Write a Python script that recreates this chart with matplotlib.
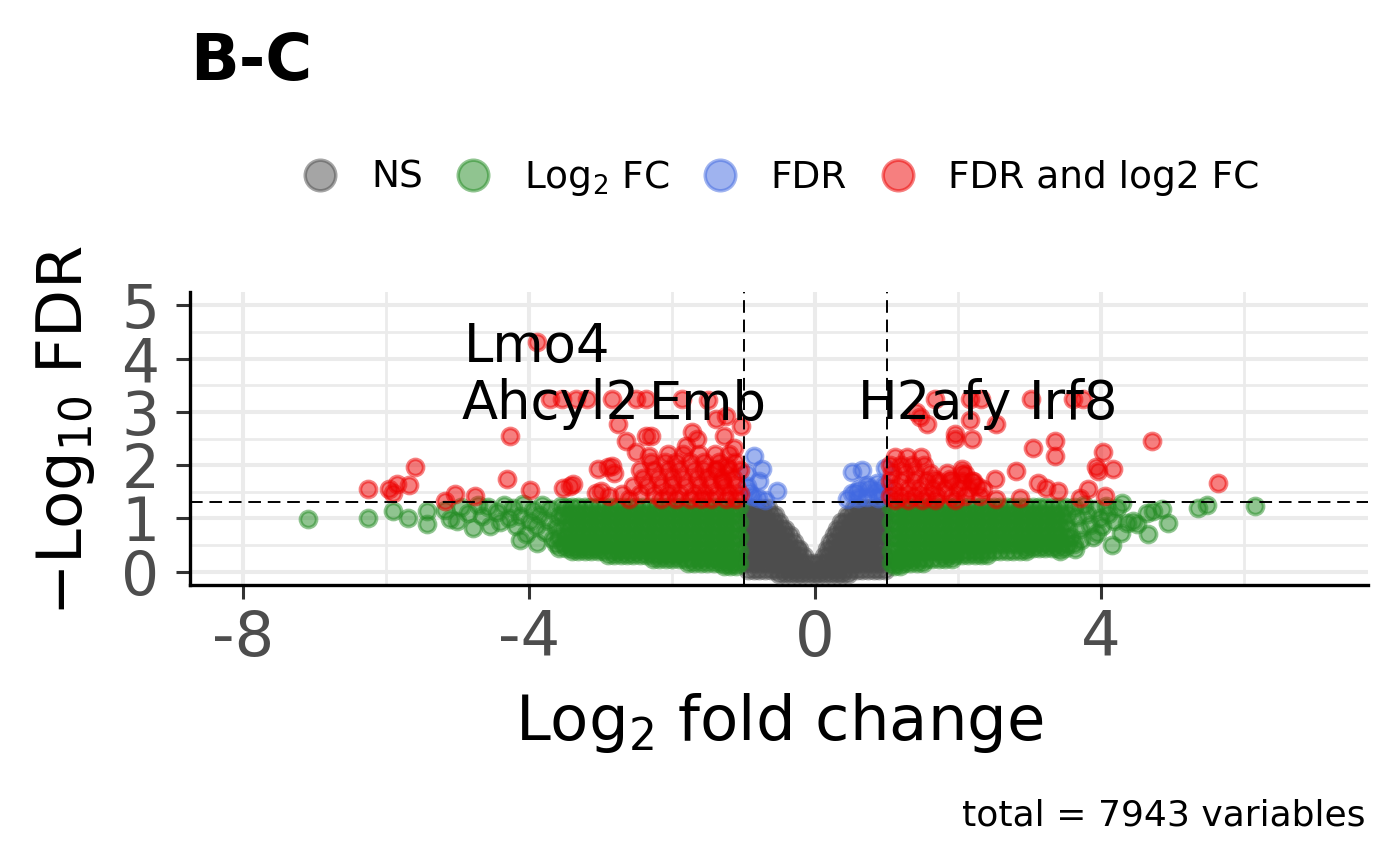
import matplotlib
matplotlib.use("Agg")
import matplotlib.pyplot as plt
from matplotlib.lines import Line2D

# ---------------- data ----------------
# NS (grey): rows of -log10 FDR -> log2 fold-change values
ns_rows = {
    1.20: [-0.98, -0.90, -0.82, -0.74, -0.66, 0.54, 0.62, 0.70, 0.78, 0.86, 0.94],
    1.07: [-0.94, -0.86, -0.78, -0.70, -0.62, -0.56, 0.44, 0.50, 0.58, 0.66, 0.74, 0.82, 0.90, 0.97],
    0.94: [-0.98, -0.90, -0.82, -0.74, -0.66, -0.58, -0.50, 0.36, 0.42, 0.50, 0.58, 0.66, 0.74, 0.82, 0.90, 0.98],
    0.81: [-0.94, -0.86, -0.78, -0.70, -0.62, -0.54, -0.46, -0.42, 0.30, 0.38, 0.46, 0.54, 0.62, 0.70, 0.78, 0.86, 0.94],
    0.68: [-0.98, -0.90, -0.82, -0.74, -0.66, -0.58, -0.50, -0.42, -0.35, 0.26, 0.34, 0.42, 0.50, 0.58, 0.66, 0.74, 0.82, 0.90, 0.98],
    0.55: [-0.94, -0.86, -0.78, -0.70, -0.62, -0.54, -0.46, -0.38, -0.30, 0.21, 0.28, 0.36, 0.44, 0.52, 0.60, 0.68, 0.76, 0.84, 0.92],
    0.42: [-0.98, -0.90, -0.82, -0.74, -0.66, -0.58, -0.50, -0.42, -0.34, -0.26, -0.22, 0.16, 0.22, 0.30, 0.38, 0.46, 0.54, 0.62, 0.70, 0.78, 0.86, 0.94],
    0.29: [-0.94, -0.86, -0.78, -0.70, -0.62, -0.54, -0.46, -0.38, -0.30, -0.22, -0.15, 0.12, 0.18, 0.26, 0.34, 0.42, 0.50, 0.58, 0.66, 0.74, 0.82, 0.90, 0.98],
    0.16: [-0.98, -0.90, -0.82, -0.74, -0.66, -0.58, -0.50, -0.42, -0.34, -0.26, -0.18, -0.10, -0.02, 0.06, 0.14, 0.22, 0.30, 0.38, 0.46, 0.54, 0.62, 0.70, 0.78, 0.86, 0.94],
    0.04: [-0.94, -0.86, -0.78, -0.70, -0.62, -0.54, -0.46, -0.38, -0.30, -0.22, -0.14, -0.06, 0.02, 0.10, 0.18, 0.26, 0.34, 0.42, 0.50, 0.58, 0.66, 0.74, 0.82, 0.90, 0.98],
    -0.04: [-0.50, -0.42, -0.34, -0.26, -0.18, -0.10, -0.02, 0.06, 0.14, 0.22, 0.30, 0.38, 0.46],
}

# Log2 FC only (green): dense rows, left and right
fc_rows_left = {
    1.22: [-1.06, -1.15, -1.24, -1.33, -1.42, -1.51, -1.60, -1.69, -1.78, -1.87, -1.96, -2.05, -2.14, -2.23, -2.32, -2.41, -2.50, -2.59, -2.68, -2.77, -2.86, -2.95, -3.04, -3.13, -3.22, -3.31, -3.40, -3.49],
    1.08: [-1.10, -1.19, -1.28, -1.37, -1.46, -1.55, -1.64, -1.73, -1.82, -1.91, -2.00, -2.09, -2.18, -2.27, -2.36, -2.45, -2.54, -2.63, -2.72, -2.81, -2.90, -2.99, -3.08, -3.17, -3.26, -3.35, -3.44, -3.53],
    0.94: [-1.06, -1.15, -1.24, -1.33, -1.42, -1.51, -1.60, -1.69, -1.78, -1.87, -1.96, -2.05, -2.14, -2.23, -2.32, -2.41, -2.50, -2.59, -2.68, -2.77, -2.86, -2.95, -3.04, -3.13, -3.22, -3.31, -3.40, -3.49],
    0.80: [-1.10, -1.19, -1.28, -1.37, -1.46, -1.55, -1.64, -1.73, -1.82, -1.91, -2.00, -2.09, -2.18, -2.27, -2.36, -2.45, -2.54, -2.63, -2.72, -2.81, -2.90, -2.99, -3.08, -3.17, -3.26, -3.35, -3.44, -3.53],
    0.66: [-1.06, -1.15, -1.24, -1.33, -1.42, -1.51, -1.60, -1.69, -1.78, -1.87, -1.96, -2.05, -2.14, -2.23, -2.32, -2.41, -2.50, -2.59, -2.68, -2.77, -2.86, -2.95, -3.04, -3.13, -3.22, -3.31, -3.40, -3.49, -3.58],
    0.52: [-1.10, -1.19, -1.28, -1.37, -1.46, -1.55, -1.64, -1.73, -1.82, -1.91, -2.00, -2.09, -2.18, -2.27, -2.36, -2.45, -2.54, -2.63, -2.72, -2.81, -2.90, -2.99, -3.08, -3.17, -3.26, -3.35, -3.44, -3.53, -3.62],
    0.45: [-3.04, -3.13, -3.22, -3.31, -3.40, -3.49, -3.58],
    0.38: [-1.06, -1.15, -1.24, -1.33, -1.42, -1.51, -1.60, -1.69, -1.78, -1.87, -1.96, -2.05, -2.14, -2.23, -2.32, -2.41, -2.50, -2.59, -2.68, -2.77, -2.86, -2.95, -3.04, -3.13, -3.22, -3.31, -3.40],
    0.31: [-1.91, -2.00, -2.09, -2.18, -2.27, -2.36, -2.45, -2.54, -2.63, -2.72, -2.81, -2.90],
    0.24: [-1.10, -1.19, -1.28, -1.37, -1.46, -1.55, -1.64, -1.73, -1.82, -1.91, -2.00, -2.09, -2.18, -2.27],
    0.17: [-1.06, -1.15, -1.24, -1.33, -1.42, -1.51, -1.60, -1.69, -1.78],
    0.10: [-1.10, -1.19, -1.28],
}
fc_rows_right = {
    1.22: [1.06, 1.15, 1.24, 1.33, 1.42, 1.51, 1.60, 1.69, 1.78, 1.87, 1.96, 2.05, 2.14, 2.23, 2.32, 2.41, 2.50, 2.59, 2.68, 2.77, 2.86, 2.95, 3.04, 3.13, 3.22, 3.31, 3.40, 3.49],
    1.08: [1.10, 1.19, 1.28, 1.37, 1.46, 1.55, 1.64, 1.73, 1.82, 1.91, 2.00, 2.09, 2.18, 2.27, 2.36, 2.45, 2.54, 2.63, 2.72, 2.81, 2.90, 2.99, 3.08, 3.17, 3.26, 3.35, 3.44, 3.53],
    0.94: [1.06, 1.15, 1.24, 1.33, 1.42, 1.51, 1.60, 1.69, 1.78, 1.87, 1.96, 2.05, 2.14, 2.23, 2.32, 2.41, 2.50, 2.59, 2.68, 2.77, 2.86, 2.95, 3.04, 3.13, 3.22, 3.31, 3.40, 3.49],
    0.80: [1.10, 1.19, 1.28, 1.37, 1.46, 1.55, 1.64, 1.73, 1.82, 1.91, 2.00, 2.09, 2.18, 2.27, 2.36, 2.45, 2.54, 2.63, 2.72, 2.81, 2.90, 2.99, 3.08, 3.17, 3.26, 3.35, 3.44, 3.53],
    0.66: [1.06, 1.15, 1.24, 1.33, 1.42, 1.51, 1.60, 1.69, 1.78, 1.87, 1.96, 2.05, 2.14, 2.23, 2.32, 2.41, 2.50, 2.59, 2.68, 2.77, 2.86, 2.95, 3.04, 3.13, 3.22, 3.31, 3.40, 3.49, 3.58],
    0.52: [1.10, 1.19, 1.28, 1.37, 1.46, 1.55, 1.64, 1.73, 1.82, 1.91, 2.00, 2.09, 2.18, 2.27, 2.36, 2.45, 2.54, 2.63, 2.72, 2.81, 2.90, 2.99, 3.08, 3.17, 3.26, 3.35, 3.44, 3.53, 3.62],
    0.45: [2.95, 3.04, 3.13, 3.22, 3.31, 3.40, 3.49],
    0.38: [1.06, 1.15, 1.24, 1.33, 1.42, 1.51, 1.60, 1.69, 1.78, 1.87, 1.96, 2.05, 2.14, 2.23, 2.32, 2.41, 2.50, 2.59, 2.68, 2.77, 2.86, 2.95],
    0.31: [1.78, 1.87, 1.96, 2.05, 2.14, 2.23, 2.32, 2.41],
    0.24: [1.10, 1.19, 1.28, 1.37, 1.46, 1.55, 1.64, 1.73, 1.82, 1.91],
    0.17: [1.06, 1.15, 1.24, 1.33, 1.42, 1.51],
    0.10: [1.10, 1.19],
}
# Log2 FC only (green): scattered genes
fc_x = [-3.55, -3.60, -3.62, -3.66, -3.70, -3.74, -3.78, -3.82, -3.86, -3.90, -3.89, -3.95, -3.99,
        -4.04, -4.08, -4.12, -4.13, -4.18, -4.22, -4.28, -4.35, -4.40, -4.45, -4.55, -4.58, -4.66,
        -4.72, -4.78, -4.85, -4.95, -5.01, -5.10, -5.18, -5.43, -5.43, -5.69, -5.90, -6.25, -7.09,
        3.43, 3.64, 3.62, 3.66, 3.70, 3.72, 3.76, 3.80, 3.84, 3.88, 3.92, 3.94, 3.98, 4.01, 4.06,
        4.10, 4.15, 4.18, 4.22, 4.27, 4.29, 4.36, 4.45, 4.50, 4.64, 4.66, 4.73, 4.85, 4.94, 5.36,
        5.48, 6.15]
fc_y = [1.24, 1.05, 0.84, 0.62, 1.18, 0.95, 0.74, 1.26, 1.06, 0.86, 0.54, 1.16, 0.95,
        0.70, 1.27, 1.05, 0.60, 0.86, 1.20, 1.00, 1.25, 0.93, 1.12, 0.86, 1.22, 1.04,
        1.26, 0.82, 1.10, 1.22, 0.95, 0.98, 1.15, 1.14, 0.89, 1.01, 1.14, 1.01, 0.98,
        0.38, 0.43, 1.22, 1.02, 0.80, 0.60, 1.25, 1.08, 0.88, 0.66, 1.18, 0.73, 1.00, 0.85, 1.24,
        1.08, 0.51, 0.95, 1.20, 0.73, 1.29, 0.92, 0.95, 0.89, 1.11, 0.70, 1.14, 1.17, 0.92, 1.20,
        1.26, 1.23]

# FDR only (blue)
fdr_x = [-0.85, -0.74, -0.78, -0.53, -0.97, -0.95, -0.88, -0.93, -0.80, -0.70,
         0.51, 0.65, 0.98, 0.57, 0.73, 0.87, 0.62, 0.76, 0.85, 0.52, 0.72, 0.88, 0.95, 0.60, 0.45, 0.97]
fdr_y = [2.18, 1.92, 1.70, 1.52, 1.86, 1.61, 1.42, 1.50, 1.38, 1.35,
         1.88, 1.91, 1.95, 1.50, 1.63, 1.67, 1.55, 1.58, 1.52, 1.48, 1.40, 1.38, 1.45, 1.38, 1.36, 1.62]

# FDR and log2 FC (red): scattered genes
both_x = [-6.25, -5.96, -5.85, -5.68, -5.90, -5.60, -5.18, -5.04, -4.76, -4.31, -4.26, -3.99,
          -3.89, -3.52, -3.38, -3.04, -2.84, -2.81, -3.06, -2.88,
          -3.70, -3.54, -3.35, -3.19, -2.84, -2.51, -2.37, -1.86, -1.50,
          -2.75, -2.65, -2.51, -2.37, -2.30, -2.32, -1.72, -1.65, -1.81, -1.39, -1.25, -1.27,
          -1.13, -1.04, -1.37, -1.23, -1.30, -3.43, -3.00, -2.90,
          1.67, 2.16, 2.32, 3.02, 3.61, 3.75, 1.41, 1.46, 1.57, 2.16, 2.53, 1.95, 1.95, 2.20,
          3.04, 3.35, 3.35, 4.02, 4.71, 3.93, 4.17, 3.96, 2.81, 2.51, 3.11, 3.23, 3.40, 3.82,
          4.05, 5.63, 2.53, 2.86, 3.70, 2.05, 2.09, 2.21, 2.26, 1.89, 1.66]
both_y = [1.55, 1.55, 1.64, 1.62, 1.48, 1.97, 1.33, 1.45, 1.43, 1.74, 2.55, 1.53,
          4.31, 1.57, 1.65, 1.92, 1.99, 1.86, 1.48, 1.42,
          3.25, 3.25, 3.25, 3.25, 3.25, 3.25, 3.25, 3.25, 3.22,
          2.77, 2.46, 2.24, 2.55, 2.55, 2.18, 2.62, 2.49, 2.36, 2.87, 2.93, 2.55,
          2.33, 2.74, 1.92, 1.99, 1.70, 1.60, 1.51, 1.96,
          3.25, 3.25, 3.25, 3.25, 3.25, 3.25, 2.99, 2.90, 2.77, 2.84, 2.77, 2.58, 2.49, 2.49,
          2.33, 2.46, 2.18, 2.24, 2.46, 1.96, 1.92, 1.89, 1.89, 1.74, 1.67, 1.58, 1.52, 1.55,
          1.42, 1.67, 1.36, 1.39, 1.39, 1.92, 1.83, 1.70, 1.60, 1.74, 1.74]
# FDR and log2 FC (red): dense clusters near the cut-offs
both_rows = {
    2.20: [-2.05, -1.85, -1.62, -1.40, -1.20],
    2.15: [1.12, 1.28, 1.48],
    2.05: [-2.30, -2.10, -1.95, -1.75, -1.55, -1.35, -1.12],
    2.00: [1.05, 1.20, 1.35, 1.52],
    1.90: [-2.45, -2.25, -2.05, -1.90, -1.70, -1.55, -1.40, -1.20, -1.05],
    1.85: [1.08, 1.25, 1.40, 1.60, 1.85, 2.05],
    1.75: [-2.40, -2.20, -2.00, -1.85, -1.65, -1.50, -1.30, -1.15],
    1.70: [1.05, 1.20, 1.38, 1.55, 1.72, 1.90, 2.05, 2.20],
    1.60: [-2.55, -2.35, -2.15, -2.00, -1.80, -1.62, -1.45, -1.28, -1.10],
    1.55: [1.10, 1.30, 1.45, 1.65, 1.82, 2.00, 2.15, 2.35],
    1.45: [-2.70, -2.45, -2.25, -2.05, -1.90, -1.70, -1.55, -1.38, -1.20, -1.05],
    1.42: [1.05, 1.20, 1.38, 1.55, 1.70, 1.90, 2.10, 2.30],
    1.36: [-2.60, -2.15, -1.95, -1.75, -1.60, -1.45, -1.25, -1.10],
    1.34: [1.12, 1.30, 1.50, 1.68, 1.95],
}

# labelled genes
label_names = ["Lmo4", "Ahcyl2", "Emb", "H2afy", "Irf8"]
label_x = [-3.89, -3.70, -1.50, 1.67, 3.61]
label_y = [4.31, 3.25, 3.22, 3.25, 3.25]

fc_cutoff = 1.0
fdr_cutoff = 1.30103  # -log10(0.05)
total_variables = 7943

legend_labels = ["NS", r"$\mathrm{Log}_{2}$ FC", "FDR", "FDR and log2 FC"]
colors = {"NS": "#4D4D4D", "FC": "#228B22", "FDR": "#4169E1", "BOTH": "#EE0000"}


def flatten(rows):
    xs, ys = [], []
    for yv, xv in rows.items():
        xs.extend(xv)
        ys.extend([yv] * len(xv))
    return xs, ys


ns_x, ns_y = flatten(ns_rows)
gl_x, gl_y = flatten(fc_rows_left)
gr_x, gr_y = flatten(fc_rows_right)
fcx = gl_x + gr_x + fc_x
fcy = gl_y + gr_y + fc_y
br_x, br_y = flatten(both_rows)
bx = both_x + br_x
by = both_y + br_y

# ---------------- figure ----------------
W, H = 1400, 866
fig = plt.figure(figsize=(14, 8.66), dpi=100)
fig.patch.set_facecolor("white")
ax_l, ax_r, ax_t, ax_b = 190, 1368, 292, 585
ax = fig.add_axes([ax_l / W, 1 - ax_b / H, (ax_r - ax_l) / W, (ax_b - ax_t) / H])

ax.set_xlim(-8.74, 7.73)
ax.set_ylim(-0.25, 5.25)

ax.set_xticks([-8, -4, 0, 4])
ax.set_xticklabels(["-8", "-4", "0", "4"])
ax.set_xticks([-6, -2, 2, 6], minor=True)
ax.set_yticks([0, 1, 2, 3, 4, 5])
ax.set_yticks([0.5, 1.5, 2.5, 3.5, 4.5], minor=True)
ax.grid(which="major", color="#EBEBEB", linewidth=2.9)
ax.grid(which="minor", color="#EBEBEB", linewidth=2.0)
ax.set_axisbelow(True)

for s in ["top", "right"]:
    ax.spines[s].set_visible(False)
for s in ["left", "bottom"]:
    ax.spines[s].set_color("black")
    ax.spines[s].set_linewidth(2.4)

ax.tick_params(which="major", axis="x", labelsize=45)
ax.tick_params(which="major", axis="y", labelsize=43)
ax.tick_params(which="major", axis="both", labelcolor="#4D4D4D",
               color="#333333", length=10, width=2.2, direction="out")
ax.tick_params(axis="x", pad=7)
ax.tick_params(axis="y", pad=12)
ax.tick_params(which="minor", length=0)

pt = dict(s=135, alpha=0.5, linewidths=2.6, zorder=3)
ax.scatter(ns_x, ns_y, color=colors["NS"], **pt)
ax.scatter(fcx, fcy, color=colors["FC"], **pt)
ax.scatter(fdr_x, fdr_y, color=colors["FDR"], **pt)
ax.scatter(bx, by, color=colors["BOTH"], **pt)

dash = (0, (6.5, 3.5))
ax.axvline(-fc_cutoff, color="black", lw=1.4, ls=dash, zorder=4)
ax.axvline(fc_cutoff, color="black", lw=1.4, ls=dash, zorder=4)
ax.axhline(fdr_cutoff, color="black", lw=1.4, ls=dash, zorder=4)

for name, x, y in zip(label_names, label_x, label_y):
    ax.annotate(name, (x, y), xytext=(0, -14.5), textcoords="offset points",
                ha="center", va="baseline", fontsize=38, color="black", zorder=5)

# titles and texts
fig.text(190 / W, 1 - 80 / H, "B-C", fontsize=46, fontweight="bold", ha="left", va="baseline")
fig.text(((ax_l + ax_r) / 2) / W, 1 - 740 / H, r"$\mathrm{Log}_{2}$ fold change",
         fontsize=45, ha="center", va="baseline")
fig.text(66 / W, 1 - 431 / H, r"$-\mathrm{Log}_{10}$ FDR", fontsize=45, rotation=90,
         ha="center", va="center")
fig.text(1366 / W, 1 - 825 / H, f"total = {total_variables} variables", fontsize=26,
         ha="right", va="baseline")

handles = [Line2D([], [], marker="o", ls="", markersize=22, markeredgewidth=2.5,
                  markerfacecolor=c, markeredgecolor=c, alpha=0.5)
           for c in [colors["NS"], colors["FC"], colors["FDR"], colors["BOTH"]]]
fig.legend(handles, legend_labels, loc="center", bbox_to_anchor=(((ax_l + ax_r) / 2 - 3) / W, 1 - 178 / H),
           ncol=4, frameon=False, fontsize=27, handlelength=1.5, handletextpad=0.6,
           columnspacing=0.6, borderpad=0)

fig.savefig("out.png", dpi=100, facecolor="white")
